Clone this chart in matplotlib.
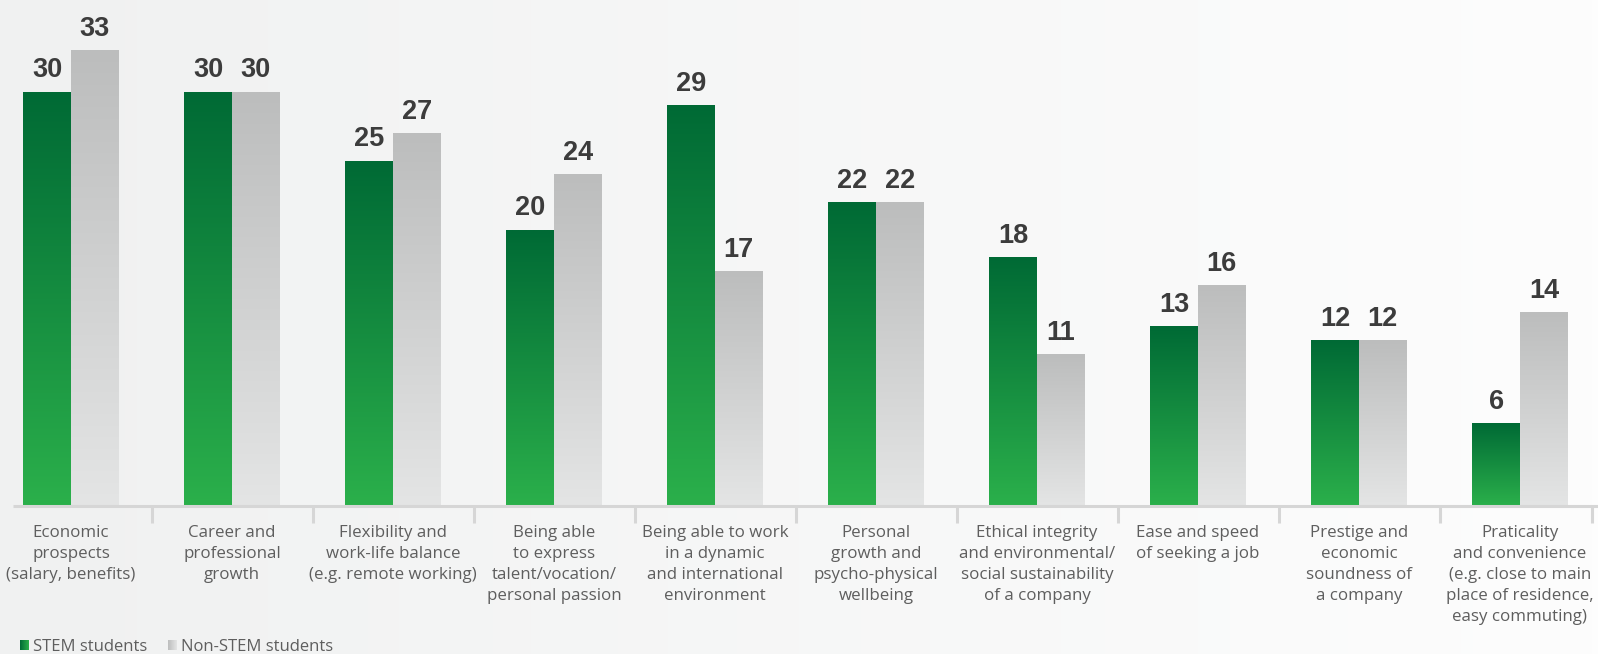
import numpy as np
import matplotlib
matplotlib.use("Agg")
import matplotlib.pyplot as plt
from matplotlib.colors import LinearSegmentedColormap

categories = [
    "Economic\nprospects\n(salary, benefits)",
    "Career and\nprofessional\ngrowth",
    "Flexibility and\nwork-life balance\n(e.g. remote working)",
    "Being able\nto express\ntalent/vocation/\npersonal passion",
    "Being able to work\nin a dynamic\nand international\nenvironment",
    "Personal\ngrowth and\npsycho-physical\nwellbeing",
    "Ethical integrity\nand environmental/\nsocial sustainability\nof a company",
    "Ease and speed\nof seeking a job",
    "Prestige and\neconomic\nsoundness of\na company",
    "Praticality\nand convenience\n(e.g. close to main\nplace of residence,\neasy commuting)",
]
stem = [30, 30, 25, 20, 29, 22, 18, 13, 12, 6]
non_stem = [33, 30, 27, 24, 17, 22, 11, 16, 12, 14]
series_names = ["STEM students", "Non-STEM students"]

green_cmap = LinearSegmentedColormap.from_list("g", ["#2bb04b", "#006a35"])
grey_cmap = LinearSegmentedColormap.from_list("k", ["#e4e5e5", "#bcbdbd"])
label_color = "#5e5e5e"
value_color = "#3c3c3c"
axis_color = "#d6d6d6"

W, H = 1598, 654
fig = plt.figure(figsize=(W / 100, H / 100), dpi=100)

# soft left-to-right background shading
bg = fig.add_axes([0, 0, 1, 1], zorder=-10)
bg.imshow(np.linspace(0, 1, 256)[None, :], aspect="auto", extent=[0, 1, 0, 1],
          cmap=LinearSegmentedColormap.from_list("bg", ["#f0f1f1", "#fdfdfd"]))
bg.axis("off")

left_px, right_px = -9.5, 1600.5
base_px = 148
px_per_unit = 13.8
ymax = (H - base_px) / px_per_unit
ax = fig.add_axes([left_px / W, base_px / H, (right_px - left_px) / W, (H - base_px) / H])
ax.patch.set_alpha(0)
ax.axis("off")

width = 0.296
grad = np.linspace(0, 1, 256)[:, None]
x = np.arange(len(categories))
for xi, s, n in zip(x, stem, non_stem):
    ax.imshow(grad, cmap=green_cmap, origin="lower", aspect="auto",
              extent=[xi - width, xi, 0, s], zorder=2)
    ax.imshow(grad, cmap=grey_cmap, origin="lower", aspect="auto",
              extent=[xi, xi + width, 0, n], zorder=2)
    for bx, v in ((xi - width / 2, s), (xi + width / 2, n)):
        ax.annotate(str(v), (bx, v), xytext=(0, 10.5), textcoords="offset points",
                    ha="center", va="baseline", fontsize=19.5, fontweight="bold",
                    family="Liberation Sans", color=value_color)
ax.set_xlim(-0.5, len(categories) - 0.5)
ax.set_ylim(0, ymax)

# baseline and separators between categories
ax.plot([-0.5 + 22.5 / 161, len(categories) - 0.5], [0, 0], color=axis_color,
        lw=2.2, clip_on=False, solid_capstyle="butt", zorder=3)
for b in list(x[:-1] + 0.5) + [len(categories) - 0.55]:
    ax.plot([b, b], [0, -17 / px_per_unit], color=axis_color, lw=2.2,
            clip_on=False, solid_capstyle="butt")

for xi, lab in zip(x, categories):
    ax.annotate(lab, (xi, 0), xytext=(0, -13.5), textcoords="offset points",
                ha="center", va="top", fontsize=12.2, family="Open Sans",
                color=label_color, linespacing=1.42, annotation_clip=False)

# legend swatches
h_cmap = np.linspace(0, 1, 64)[None, :]
for x0, cmap, name in ((20, green_cmap, series_names[0]), (168, grey_cmap, series_names[1])):
    sw = fig.add_axes([x0 / W, 4 / H, 9 / W, 10 / H])
    sw.imshow(h_cmap[:, ::-1], cmap=cmap, aspect="auto")
    sw.axis("off")
    fig.text((x0 + 13) / W, 3 / H, name, fontsize=12, family="Open Sans",
             color=label_color, ha="left", va="baseline")

fig.savefig("out.png", dpi=100)
